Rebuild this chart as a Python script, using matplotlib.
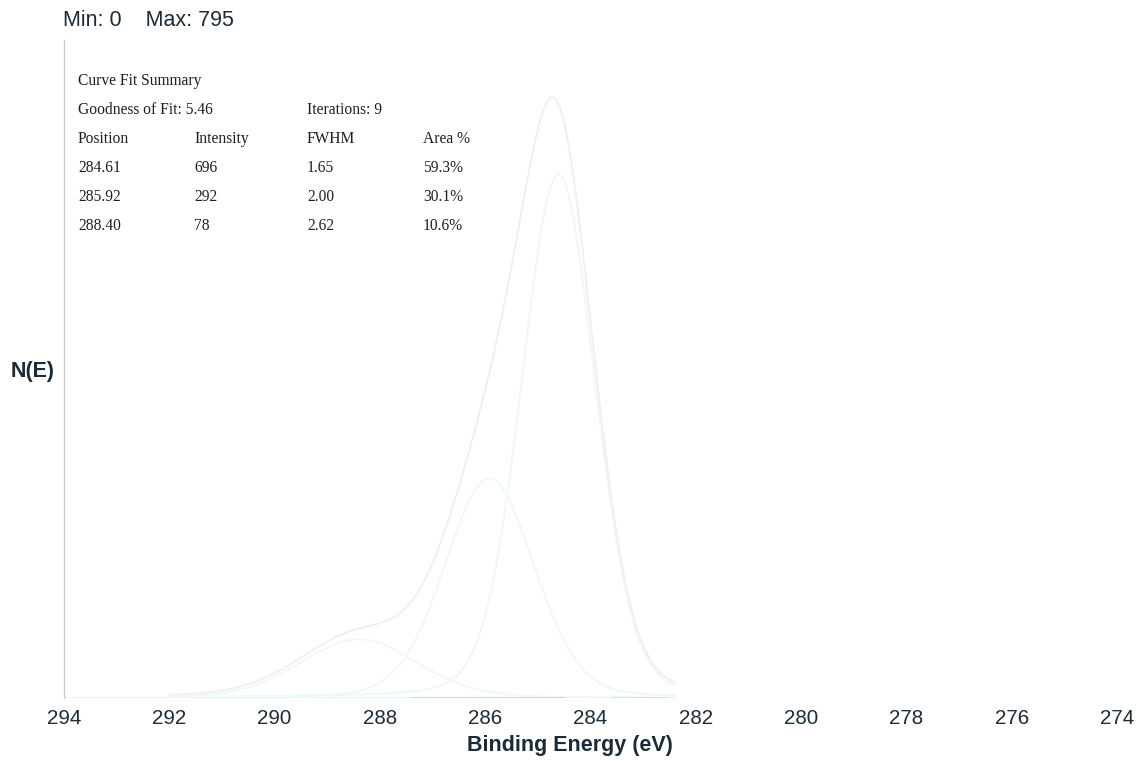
import numpy as np
import matplotlib
matplotlib.use("Agg")
import matplotlib.pyplot as plt

# Curve fit results (C 1s region)
positions = [284.61, 285.92, 288.40]
intensities = [696, 292, 78]
fwhms = [1.65, 2.00, 2.62]
area_pct = ["59.3%", "30.1%", "10.6%"]
goodness_of_fit = 5.46
iterations = 9
y_min, y_max = 0, 795

x_ticks = [294, 292, 290, 288, 286, 284, 282, 280, 278, 276, 274]

W, H = 1138, 761
fig = plt.figure(figsize=(W / 100, H / 100), dpi=100)
fig.patch.set_facecolor("white")

ax = fig.add_axes([64 / W, (H - 698) / H, (1117 - 64) / W, (698 - 40) / H])

be = np.linspace(282.4, 292.0, 800)


def peak(x, c, h, w):
    # mixed Gaussian/Lorentzian line shape
    g = np.exp(-4 * np.log(2) * ((x - c) / w) ** 2)
    l = 1.0 / (1.0 + 4 * ((x - c) / w) ** 2)
    return h * (0.85 * g + 0.15 * l)


comp_colors = ["#f3f6f6", "#eef9f8", "#f4f7f7"]
components = [peak(be, c, h, w) for c, h, w in zip(positions, intensities, fwhms)]
for comp, col in zip(components, comp_colors):
    ax.plot(be, comp, color=col, lw=1.4)
envelope = np.sum(components, axis=0)
ax.plot(be, envelope, color="#efefef", lw=1.3)

# background / baseline
ax.plot([294, 282.4], [0, 0], color="#e6f5f4", lw=2.0)
ax.plot([287.4, 284.5], [0, 0], color="#c3d3d3", lw=1.2)
ax.plot([283.6, 282.5], [0, 0], color="#d6e1e1", lw=1.2)

ax.set_xlim(294, 274)
ax.set_ylim(y_min, y_max * 1.1)
ax.set_xticks(x_ticks)
ax.set_xticklabels([str(t) for t in x_ticks], fontsize=14.8, color="#1c2b36",
                   family="Liberation Sans")
ax.tick_params(axis="x", length=0, pad=8)
ax.set_yticks([])
for s in ["top", "right", "bottom"]:
    ax.spines[s].set_visible(False)
ax.spines["left"].set_color("#cccccc")
ax.spines["left"].set_linewidth(1.0)

fig.text(570 / W, 1 - 745 / H, "Binding Energy (eV)", fontsize=15.5,
         fontweight="bold", color="#1c2b36", family="Liberation Sans",
         va="center", ha="center")
fig.text(11 / W, 1 - 371 / H, "N(E)", fontsize=15.5, fontweight="bold",
         color="#1c2b36", family="Liberation Sans", va="center", ha="left")

fig.text(63 / W, 1 - 20 / H, f"Min: {y_min}    Max: {y_max}", fontsize=15.5,
         color="#1c2b36", family="Liberation Sans", va="center", ha="left")

# Curve fit summary table
serif = dict(family="Liberation Serif", fontsize=11.2, color="#1e1e1e",
             va="center", ha="left")
cols = [78, 194, 307, 423]
fig.text(cols[0] / W, 1 - 81 / H, "Curve Fit Summary", **serif)
fig.text(cols[0] / W, 1 - 110 / H, f"Goodness of Fit: {goodness_of_fit:.2f}", **serif)
fig.text(cols[2] / W, 1 - 110 / H, f"Iterations: {iterations}", **serif)
headers = ["Position", "Intensity", "FWHM", "Area %"]
for cx, htxt in zip(cols, headers):
    fig.text(cx / W, 1 - 139 / H, htxt, **serif)
for i, (p, h, w, a) in enumerate(zip(positions, intensities, fwhms, area_pct)):
    y = 1 - (168 + 29 * i) / H
    for cx, t in zip(cols, [f"{p:.2f}", f"{h}", f"{w:.2f}", a]):
        fig.text(cx / W, y, t, **serif)

fig.savefig("out.png", dpi=100, facecolor="white")
